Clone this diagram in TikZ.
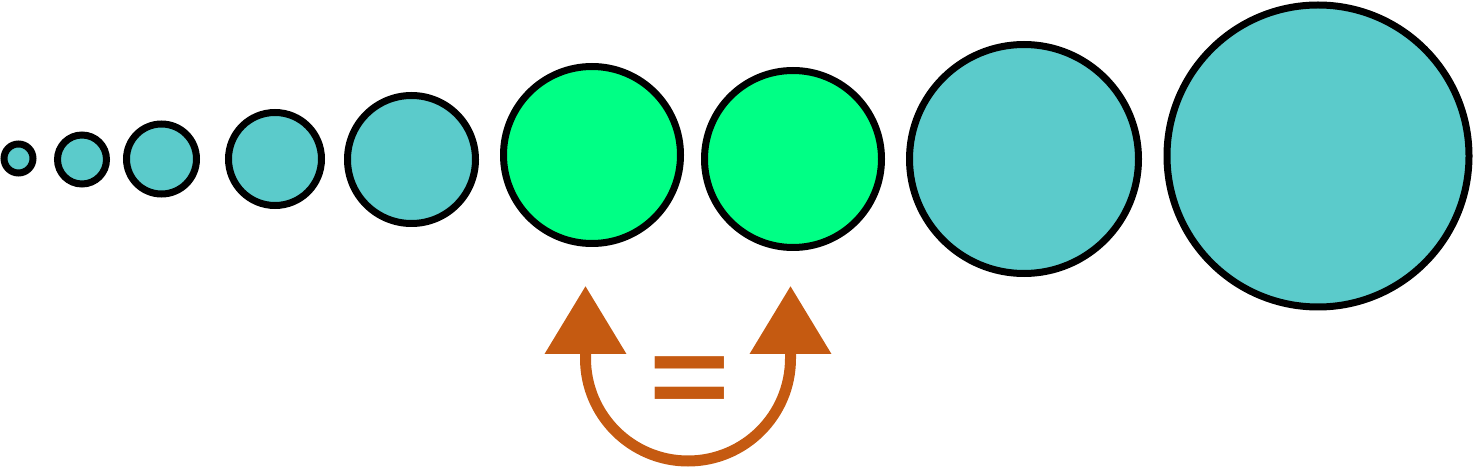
\documentclass[tikz,border=0pt]{standalone}
\usepackage{xcolor}
\usepackage{fontspec}
\usepackage{tikz}
\usetikzlibrary{arrows.meta, positioning, calc}
\newfontfamily\eqfont{Liberation Sans}

\definecolor{tealfill}{HTML}{5BCBCB}
\definecolor{greenfill}{HTML}{00FF85}
\definecolor{rustorange}{HTML}{C55A11}

\begin{document}
\begin{tikzpicture}[
        x=1pt, y=1pt,
        ball/.style={
            circle, draw=black, line width=7pt, inner sep=0pt, fill=tealfill
        },
        same/.style={ball, fill=greenfill},
        swap/.style={
            draw=rustorange, line width=11pt,
            {Triangle[width=79pt,length=68pt]}-{Triangle[width=79pt,length=68pt]}
        },
        eqsign/.style={text=rustorange, inner sep=0pt, font=\eqfont\bfseries\fontsize{138}{138}\selectfont}
    ]
        \useasboundingbox (0,0) rectangle (1473,469);

        % Circles
        \node[ball, minimum size=29pt] (c1) at (18.5,310.5) {};
        \node[ball, minimum size=49pt] (c2) at (82,309.5) {};
        \node[ball, minimum size=70pt] (c3) at (161.5,310) {};
        \node[ball, minimum size=93pt] (c4) at (275,310) {};
        \node[ball, minimum size=128pt] (c5) at (411.5,309.5) {};
        \node[same, minimum size=177pt] (c6) at (592,314) {};
        \node[same, minimum size=177pt] (c7) at (793,310) {};
        \node[ball, minimum size=229pt] (c8) at (1024,310) {};
        \node[ball, minimum size=302pt] (c9) at (1318,313) {};

        % Arrow
        \coordinate (tipL) at (585.5,183);
        \coordinate (tipR) at (790.5,183);
        \draw[swap] (tipL) -- ++(0,-72.5) arc[start angle=180, end angle=360, radius=102.5] -- (tipR);

        \node[eqsign] (eq) at (689.5,82.5) {\scalebox{1}[0.82]{=}};

    \end{tikzpicture}
\end{document}
